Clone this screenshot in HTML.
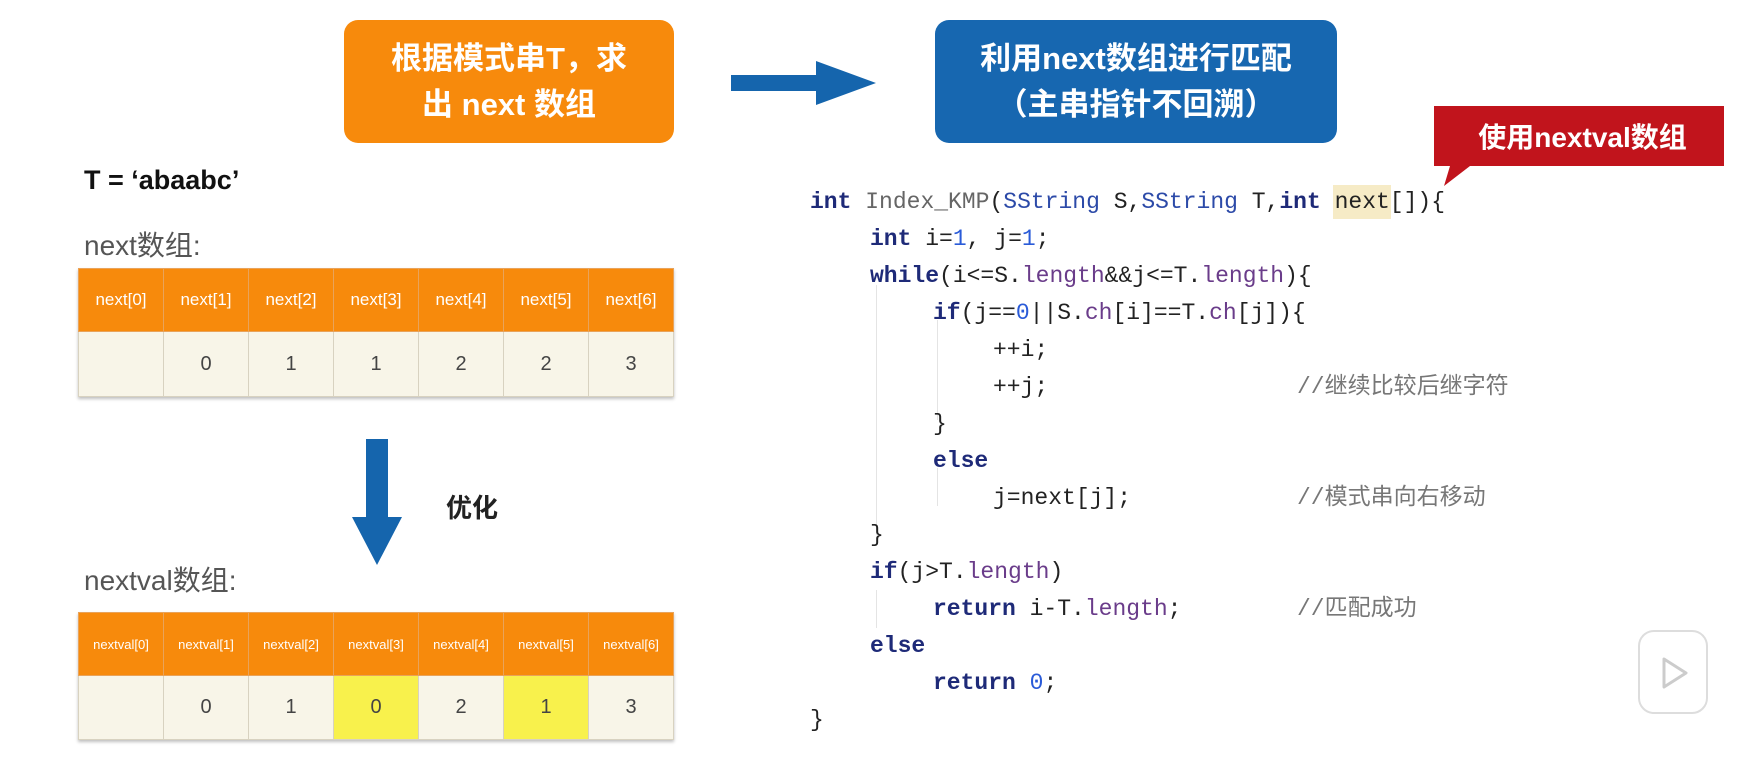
<!DOCTYPE html>
<html><head><meta charset="utf-8">
<style>
*{margin:0;padding:0;box-sizing:border-box}
body{width:1750px;height:766px;background:#fff;position:relative;overflow:hidden;font-family:"Liberation Sans","Noto Sans CJK SC",sans-serif}
.abs{position:absolute}
.box{position:absolute;border-radius:14px;color:#fff;font-weight:bold;font-size:31px;text-align:center;line-height:46px;display:flex;align-items:center;justify-content:center;flex-direction:column}
table{position:absolute;border-collapse:collapse;table-layout:fixed;box-shadow:0 2px 3px rgba(0,0,0,.25)}
td{border:1px solid #d8d2c0;text-align:center;width:85px}
tr.h td{background:#f78a0c;color:#fff;font-size:17px;border-color:#e9a35a}
tr.b td{background:#f8f5e8;color:#444;font-size:20px}
tr.b td.y{background:#f8f14c}
.l{position:absolute;font-family:"Liberation Mono","Noto Sans CJK SC",monospace;font-size:23px;color:#222;white-space:pre;line-height:37px;height:37px}
.k{color:#1e2a78;font-weight:bold}
.f{color:#666}
.t{color:#2c4aa8}
.n{color:#2a5bd8}
.p{color:#6a3c8a}
.c{color:#777;left:1297px}
.g{position:absolute;width:1px;background:#e4e4e4}
</style></head><body>

<div class="box" style="left:344px;top:20px;width:330px;height:123px;background:#f78a0c">
<div>根据模式串T，求</div><div>出 next 数组</div></div>

<svg class="abs" style="left:728px;top:58px" width="152" height="52"><polygon points="3,17 88,17 88,3 148,25 88,47 88,33 3,33" fill="#1565ad"/></svg>

<div class="box" style="left:935px;top:20px;width:402px;height:123px;background:#1767b0">
<div>利用next数组进行匹配</div><div>（主串指针不回溯）</div></div>

<svg class="abs" style="left:1430px;top:104px" width="300" height="84"><polygon points="4,2 294,2 294,62 40,62 14,82 20,62 4,62" fill="#c1141c"/></svg>
<div class="abs" style="left:1440px;top:110px;width:285px;height:56px;color:#fff;font-weight:bold;font-size:28px;line-height:56px;text-align:center">使用nextval数组</div>

<div class="abs" style="left:84px;top:165px;font-size:27px;font-weight:bold;color:#111">T = ‘abaabc’</div>
<div class="abs" style="left:84px;top:224px;font-size:28px;color:#555">next数组:</div>

<table style="left:78px;top:268px;width:596px">
<tr class="h" style="height:63px"><td>next[0]</td><td>next[1]</td><td>next[2]</td><td>next[3]</td><td>next[4]</td><td>next[5]</td><td>next[6]</td></tr>
<tr class="b" style="height:65px"><td></td><td>0</td><td>1</td><td>1</td><td>2</td><td>2</td><td>3</td></tr>
</table>

<svg class="abs" style="left:350px;top:437px" width="56" height="130"><polygon points="16,2 38,2 38,80 52,80 27,128 2,80 16,80" fill="#1565ad"/></svg>
<div class="abs" style="left:446px;top:488px;font-size:26px;font-weight:bold;color:#222">优化</div>

<div class="abs" style="left:84px;top:559px;font-size:28px;color:#555">nextval数组:</div>

<table style="left:78px;top:612px;width:596px">
<tr class="h" style="height:63px"><td style="font-size:13px">nextval[0]</td><td style="font-size:13px">nextval[1]</td><td style="font-size:13px">nextval[2]</td><td style="font-size:13px">nextval[3]</td><td style="font-size:13px">nextval[4]</td><td style="font-size:13px">nextval[5]</td><td style="font-size:13px">nextval[6]</td></tr>
<tr class="b" style="height:64px"><td></td><td>0</td><td>1</td><td class="y">0</td><td>2</td><td class="y">1</td><td>3</td></tr>
</table>

<div class="g" style="left:876px;top:285px;height:250px"></div>
<div class="g" style="left:937px;top:320px;height:100px"></div>
<div class="g" style="left:937px;top:468px;height:38px"></div>
<div class="g" style="left:876px;top:590px;height:38px"></div>

<div class="abs" style="left:1333px;top:185px;width:58px;height:34px;background:#f6ebc6"></div>

<div class="l" style="left:810px;top:184px"><span class="k">int</span> <span class="f">Index_KMP</span>(<span class="t">SString</span> S,<span class="t">SString</span> T,<span class="k">int</span> next[]){</div>
<div class="l" style="left:870px;top:221px"><span class="k">int</span> i=<span class="n">1</span>, j=<span class="n">1</span>;</div>
<div class="l" style="left:870px;top:258px"><span class="k">while</span>(i&lt;=S.<span class="p">length</span>&amp;&amp;j&lt;=T.<span class="p">length</span>){</div>
<div class="l" style="left:933px;top:295px"><span class="k">if</span>(j==<span class="n">0</span>||S.<span class="p">ch</span>[i]==T.<span class="p">ch</span>[j]){</div>
<div class="l" style="left:993px;top:332px">++i;</div>
<div class="l" style="left:993px;top:369px">++j;</div>
<div class="l c" style="top:369px">//继续比较后继字符</div>
<div class="l" style="left:933px;top:406px">}</div>
<div class="l" style="left:933px;top:443px"><span class="k">else</span></div>
<div class="l" style="left:993px;top:480px">j=next[j];</div>
<div class="l c" style="top:480px">//模式串向右移动</div>
<div class="l" style="left:870px;top:517px">}</div>
<div class="l" style="left:870px;top:554px"><span class="k">if</span>(j&gt;T.<span class="p">length</span>)</div>
<div class="l" style="left:933px;top:591px"><span class="k">return</span> i-T.<span class="p">length</span>;</div>
<div class="l c" style="top:591px">//匹配成功</div>
<div class="l" style="left:870px;top:628px"><span class="k">else</span></div>
<div class="l" style="left:933px;top:665px"><span class="k">return</span> <span class="n">0</span>;</div>
<div class="l" style="left:810px;top:702px">}</div>

<div class="abs" style="left:1638px;top:630px;width:70px;height:84px;border:2px solid #ddd;border-radius:16px;background:rgba(255,255,255,.7)"></div>
<svg class="abs" style="left:1660px;top:656px" width="30" height="34"><polygon points="4,3 26,17 4,31" fill="none" stroke="#ccc" stroke-width="3" stroke-linejoin="round"/></svg>
</body></html>
